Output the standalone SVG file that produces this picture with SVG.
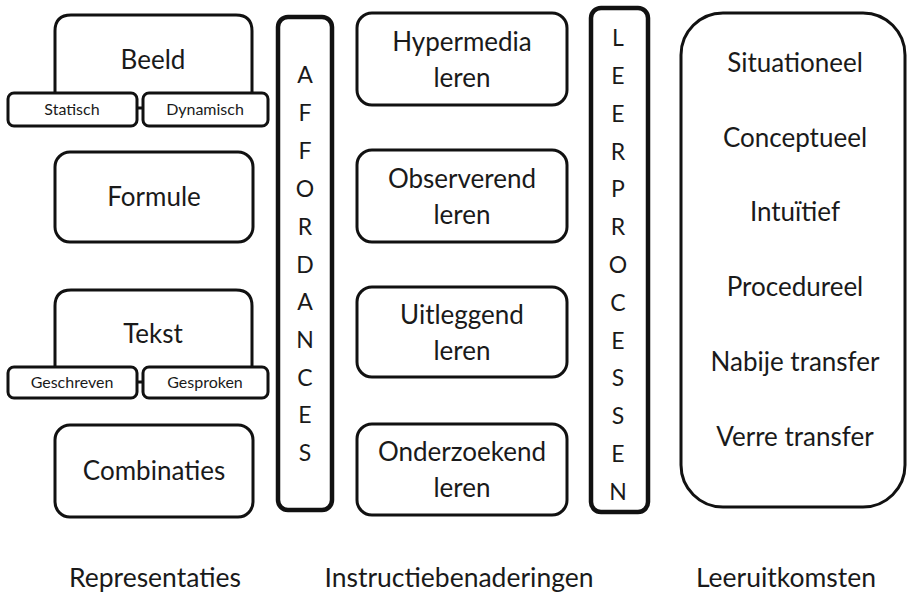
<svg xmlns="http://www.w3.org/2000/svg" width="910" height="593" viewBox="0 0 910 593">
<style>
.box{fill:#fff;stroke:#111;stroke-width:3}
.sub{fill:#fff;stroke:#111;stroke-width:3}
.bar{fill:#fff;stroke:#111;stroke-width:4.5}
text{font-family:Lato,"Open Sans","Liberation Sans",sans-serif;fill:#1a1a1a;text-anchor:middle}
.t{font-size:26px}
.s{font-size:16px}
.l{font-size:23px}
.lab{font-size:26.5px}
</style>
<rect width="910" height="593" fill="#fff"/>
<g id="connectors">
<line x1="137" y1="108" x2="143" y2="108" stroke="#111" stroke-width="3"/>
<line x1="137" y1="382" x2="143" y2="382" stroke="#111" stroke-width="3"/>
</g>
<g id="beeld">
<path class="box" d="M55,94 V31 Q55,15 71,15 H236 Q252,15 252,31 V94"/>
<text class="t" x="153" y="69">Beeld</text>
</g>
<g id="statisch">
<rect class="sub" x="8" y="93" width="129" height="33" rx="6"/>
<text class="s" x="72" y="115">Statisch</text>
</g>
<g id="dynamisch">
<rect class="sub" x="143" y="93" width="125" height="33" rx="6"/>
<text class="s" x="205" y="115">Dynamisch</text>
</g>
<g id="formule">
<rect class="box" x="55" y="152" width="198" height="90" rx="15"/>
<text class="t" x="154" y="206">Formule</text>
</g>
<g id="tekst">
<path class="box" d="M55,368 V306 Q55,290 71,290 H236 Q252,290 252,306 V368"/>
<text class="t" x="153" y="343">Tekst</text>
</g>
<g id="geschreven">
<rect class="sub" x="8" y="367" width="129" height="31" rx="6"/>
<text class="s" x="72" y="388">Geschreven</text>
</g>
<g id="gesproken">
<rect class="sub" x="143" y="367" width="125" height="31" rx="6"/>
<text class="s" x="205" y="388">Gesproken</text>
</g>
<g id="combinaties">
<rect class="box" x="55" y="425" width="198" height="92" rx="15"/>
<text class="t" x="154" y="480">Combinaties</text>
</g>
<g id="affordances">
<rect class="bar" x="278" y="17" width="54" height="493" rx="10"/>
<text class="l" x="305" y="83">A</text>
<text class="l" x="305" y="121">F</text>
<text class="l" x="305" y="159">F</text>
<text class="l" x="305" y="197">O</text>
<text class="l" x="305" y="235">R</text>
<text class="l" x="305" y="273">D</text>
<text class="l" x="305" y="310">A</text>
<text class="l" x="305" y="348">N</text>
<text class="l" x="305" y="386">C</text>
<text class="l" x="305" y="423">E</text>
<text class="l" x="305" y="461">S</text>
</g>
<g id="hypermedia">
<rect class="box" x="357" y="13" width="210" height="92" rx="15"/>
<text class="t" x="462" y="51">Hypermedia</text>
<text class="t" x="462" y="87">leren</text>
</g>
<g id="observerend">
<rect class="box" x="357" y="150" width="210" height="92" rx="15"/>
<text class="t" x="462" y="188">Observerend</text>
<text class="t" x="462" y="224">leren</text>
</g>
<g id="uitleggend">
<rect class="box" x="357" y="287" width="210" height="90" rx="15"/>
<text class="t" x="462" y="324">Uitleggend</text>
<text class="t" x="462" y="360">leren</text>
</g>
<g id="onderzoekend">
<rect class="box" x="357" y="424" width="210" height="91" rx="15"/>
<text class="t" x="462" y="461">Onderzoekend</text>
<text class="t" x="462" y="497">leren</text>
</g>
<g id="leerprocessen">
<rect class="bar" x="591" y="8" width="57" height="504" rx="10"/>
<text class="l" x="618" y="46">L</text>
<text class="l" x="618" y="84">E</text>
<text class="l" x="618" y="122">E</text>
<text class="l" x="618" y="160">R</text>
<text class="l" x="618" y="197">P</text>
<text class="l" x="618" y="235">R</text>
<text class="l" x="618" y="273">O</text>
<text class="l" x="618" y="311">C</text>
<text class="l" x="618" y="349">E</text>
<text class="l" x="618" y="386">S</text>
<text class="l" x="618" y="424">S</text>
<text class="l" x="618" y="462">E</text>
<text class="l" x="618" y="500">N</text>
</g>
<g id="leeruitkomsten-box">
<rect class="box" x="681" y="13" width="224" height="494" rx="42"/>
<text class="t" x="795" y="72">Situationeel</text>
<text class="t" x="795" y="147">Conceptueel</text>
<text class="t" x="795" y="221">Intuïtief</text>
<text class="t" x="795" y="296">Procedureel</text>
<text class="t" x="795" y="371">Nabije transfer</text>
<text class="t" x="795" y="446">Verre transfer</text>
</g>
<g id="labels">
<text class="lab" x="155" y="587">Representaties</text>
<text class="lab" x="459" y="587">Instructiebenaderingen</text>
<text class="lab" x="786" y="587">Leeruitkomsten</text>
</g>
</svg>
